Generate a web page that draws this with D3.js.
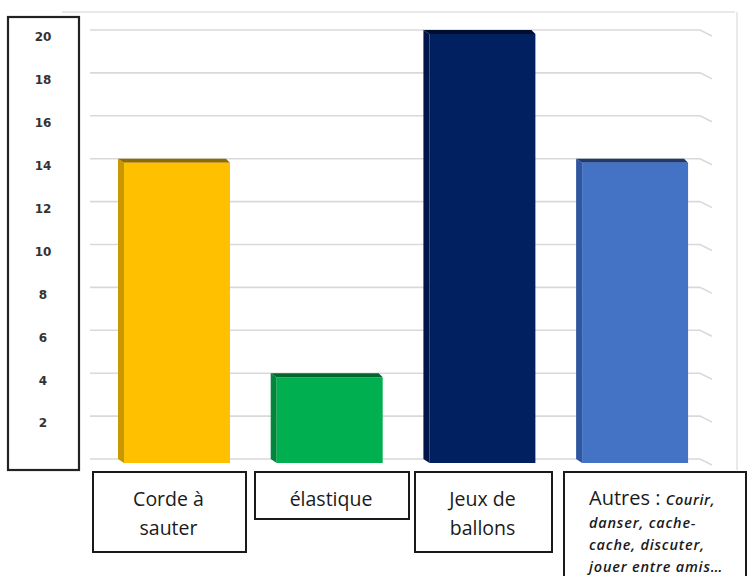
<!DOCTYPE html>
<html>
<head>
<meta charset="utf-8">
<script src="https://cdn.jsdelivr.net/npm/d3@7"></script>
<style>
  html, body { margin: 0; padding: 0; background: #fff; }
  svg { display: block; }
</style>
</head>
<body>
<svg id="chart" width="747" height="576"></svg>
<script>
// ---- data ----
const categories = ["Corde à sauter", "élastique", "Jeux de ballons", "Autres"];
const values = [14, 4, 20, 14];
const tickValues = [2, 4, 6, 8, 10, 12, 14, 16, 18, 20];
const gridValues = [0, 2, 4, 6, 8, 10, 12, 14, 16, 18, 20];
const labelLines = [["Corde à", "sauter"], ["élastique"], ["Jeux de", "ballons"]];
const otherTitle = "Autres : ";
const otherLines = ["Courir,", "danser, cache-", "cache, discuter,", "jouer entre amis…"];

// ---- styles ----
const frontColors = ["#FFC000", "#00B050", "#002060", "#4472C4"];
const sideColors  = ["#C99700", "#00873C", "#00154A", "#2F56A0"];
const topColors   = ["#8F6B00", "#00662C", "#000D2E", "#1F3A70"];

const svg = d3.select("#chart");

const y = d3.scaleLinear().domain([0, 20]).range([463, 34]);
const x = d3.scaleBand().domain(categories).range([77.3, 734.8]).padding(0.306);
const dx = -6, dy = -4; // depth offset

// chart frame (faint)
svg.append("line").attr("x1", 62).attr("x2", 735).attr("y1", 12).attr("y2", 12)
  .attr("stroke", "#e2e2e2").attr("stroke-width", 1.5);
svg.append("line").attr("x1", 737).attr("x2", 737).attr("y1", 12).attr("y2", 470)
  .attr("stroke", "#e2e2e2").attr("stroke-width", 1.5);

// gridlines on back wall with small 3D corner
const grid = svg.append("g");
grid.selectAll("path").data(gridValues).join("path")
  .attr("d", v => {
    const yy = y(v) + dy;
    return `M90,${yy} L700,${yy} L712,${yy + 6}`;
  })
  .attr("fill", "none").attr("stroke", "#d9d9d9").attr("stroke-width", 1.6);

// bars (3D look)
const bars = svg.append("g").selectAll("g").data(categories).join("g");
bars.append("path") // side face (left)
  .attr("d", (c, i) => {
    const x0 = x(c), yt = y(values[i]), yb = y(0);
    return `M${x0 + dx},${yt + dy} L${x0},${yt} L${x0},${yb} L${x0 + dx},${yb + dy} Z`;
  })
  .attr("fill", (c, i) => sideColors[i]);
bars.append("path") // top face
  .attr("d", (c, i) => {
    const x0 = x(c), x1 = x0 + x.bandwidth(), yt = y(values[i]);
    return `M${x0 + dx},${yt + dy} L${x1 - 4},${yt + dy} L${x1},${yt} L${x0},${yt} Z`;
  })
  .attr("fill", (c, i) => topColors[i]);
bars.append("rect") // front face
  .attr("x", c => x(c))
  .attr("y", (c, i) => y(values[i]))
  .attr("width", x.bandwidth())
  .attr("height", (c, i) => y(0) - y(values[i]))
  .attr("fill", (c, i) => frontColors[i]);

// y axis box
svg.append("rect").attr("x", 8).attr("y", 17).attr("width", 71).attr("height", 453)
  .attr("fill", "#fff").attr("stroke", "#222").attr("stroke-width", 2.2);

const axis = d3.axisLeft(y).tickValues(tickValues).tickSize(0).tickPadding(0);
const ag = svg.append("g").attr("transform", "translate(43,3)").call(axis);
ag.select(".domain").remove();
ag.selectAll("text")
  .attr("x", 0).attr("text-anchor", "middle")
  .attr("font-family", "'DejaVu Sans', sans-serif")
  .attr("font-size", 12).attr("font-weight", "bold").attr("fill", "#333");

// category label boxes
const boxes = [
  { x: 93, w: 153, h: 80 },
  { x: 255, w: 154, h: 47 },
  { x: 415, w: 137, h: 80 },
  { x: 564, w: 182, h: 120 }
];
const lab = svg.append("g").attr("font-family", "'Open Sans', sans-serif").attr("fill", "#1a1a1a");
lab.selectAll("rect").data(boxes).join("rect")
  .attr("x", d => d.x).attr("y", 472).attr("width", d => d.w).attr("height", d => d.h)
  .attr("fill", "#fff").attr("stroke", "#1a1a1a").attr("stroke-width", 2);

labelLines.forEach((lines, i) => {
  const b = boxes[i];
  lines.forEach((t, j) => {
    lab.append("text")
      .attr("x", b.x + b.w / 2 - 1)
      .attr("y", 506 + j * 29)
      .attr("text-anchor", "middle")
      .attr("font-size", 19.5)
      .text(t);
  });
});

const b4 = boxes[3];
const t4 = lab.append("text").attr("x", b4.x + 25).attr("y", 505);
t4.append("tspan").attr("font-size", 20).text(otherTitle);
t4.append("tspan").attr("font-size", 14.5).attr("font-style", "italic").attr("font-weight", 600)
  .attr("letter-spacing", 0.6).text(otherLines[0]);
otherLines.slice(1).forEach((t, j) => {
  lab.append("text")
    .attr("x", b4.x + 25).attr("y", 528 + j * 22)
    .attr("font-size", 14.5).attr("font-style", "italic").attr("font-weight", 600)
    .attr("letter-spacing", 0.8)
    .text(t);
});
</script>
</body>
</html>
